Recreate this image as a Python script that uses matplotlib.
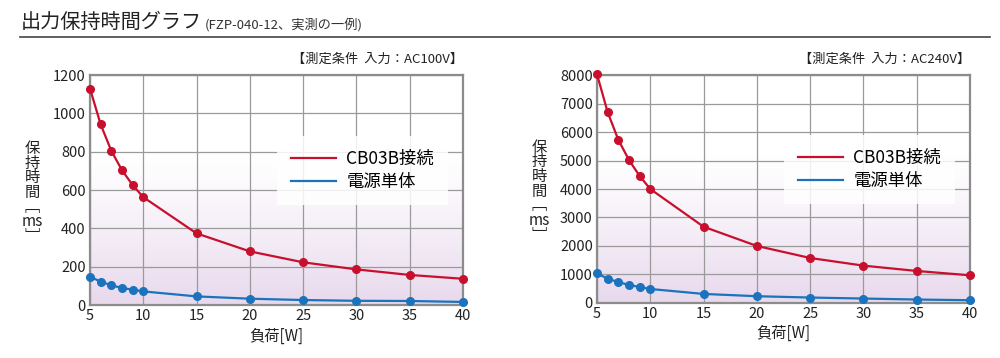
import numpy as np
import matplotlib
matplotlib.use("Agg")
import matplotlib.pyplot as plt
from matplotlib.lines import Line2D

plt.rcParams['font.family'] = ['Noto Sans CJK JP', 'DejaVu Sans']

# ---- data ----
load_w = [5, 6, 7, 8, 9, 10, 15, 20, 25, 30, 35, 40]

ac100_cb03b = [1130, 943, 805, 704, 626, 563, 374, 280, 223, 186, 157, 137]
ac100_single = [148, 122, 103, 89, 80, 71, 45, 33, 26, 22, 21, 16]

ac240_cb03b = [8030, 6700, 5730, 5020, 4460, 4000, 2675, 2000, 1577, 1308, 1121, 969]
ac240_single = [1035, 849, 733, 628, 558, 488, 314, 234, 187, 152, 117, 93]

x_ticks = [5, 10, 15, 20, 25, 30, 35, 40]
legend_labels = ['CB03B接続', '電源単体']
conditions = ['【測定条件  入力：AC100V】', '【測定条件  入力：AC240V】']

RED = '#c8102e'
BLUE = '#1b72bd'
GRID = '#9a9a9a'

fig = plt.figure(figsize=(10, 3.58), dpi=100)

# title + rule
fig.text(0.021, 0.938, '出力保持時間グラフ', fontsize=14.5, color='#222222',
         va='center', ha='left')
fig.text(0.205, 0.930, '(FZP-040-12、実測の一例)', fontsize=9.5, color='#333333',
         va='center', ha='left')
fig.add_artist(Line2D([0.02, 0.99], [0.896, 0.896], color='#444444', lw=1.2,
                      transform=fig.transFigure))


def draw_panel(rect, red, blue, ymax, ystep, cond):
    ax = fig.add_axes(rect)
    # soft purple gradient toward the bottom
    grad = np.linspace(0, 1, 256)
    grad = np.clip((grad - 0.35) / 0.65, 0, 1) ** 1.2
    c0 = np.array([1.0, 1.0, 1.0])
    c1 = np.array([0.91, 0.85, 0.93])
    img = c0[None, :] * (1 - grad[:, None]) + c1[None, :] * grad[:, None]
    img = img[:, None, :]
    ax.imshow(img, extent=[0, 1, 0, 1], transform=ax.transAxes,
              aspect='auto', origin='upper', zorder=0)

    ax.plot(load_w, red, color=RED, lw=1.6, marker='o', ms=5.5, zorder=4,
            label=legend_labels[0], clip_on=False)
    ax.plot(load_w, blue, color=BLUE, lw=1.6, marker='o', ms=5.5, zorder=4,
            label=legend_labels[1], clip_on=False)

    ax.set_xlim(5, 40)
    ax.set_ylim(0, ymax)
    ax.set_xticks(x_ticks)
    ax.set_yticks(np.arange(0, ymax + 1, ystep))
    ax.grid(True, color=GRID, lw=0.9, zorder=1)
    ax.set_axisbelow(False)
    for gl in ax.get_xgridlines() + ax.get_ygridlines():
        gl.set_zorder(1)
    for s in ax.spines.values():
        s.set_color('#8c8c8c')
        s.set_linewidth(1.6)
        s.set_zorder(3)
    ax.tick_params(length=0, labelsize=10.5, colors='#222222', pad=3)

    ax.set_xlabel('負荷[W]', fontsize=11, color='#222222', labelpad=3)
    ax.text(1.0, 1.04, cond, transform=ax.transAxes, ha='right', va='bottom',
            fontsize=9.5, color='#222222')
    ax.text(-0.155, 0.49, '保\n持\n時\n間\n﹇\nms\n﹈', transform=ax.transAxes,
            ha='center', va='center', fontsize=11, color='#222222',
            linespacing=0.82)

    leg = ax.legend(loc='center', bbox_to_anchor=(0.73, 0.585), fontsize=12.5,
                    frameon=True, handlelength=2.6, handletextpad=0.6,
                    labelspacing=0.3, borderpad=0.8, fancybox=False)
    leg.get_frame().set_facecolor('white')
    leg.get_frame().set_alpha(0.85)
    leg.get_frame().set_edgecolor('none')
    leg.set_zorder(5)
    for h in leg.get_lines():
        h.set_marker('')
        h.set_linewidth(1.6)
    return ax


draw_panel([0.090, 0.148, 0.373, 0.642], ac100_cb03b, ac100_single, 1200, 200,
           conditions[0])
draw_panel([0.597, 0.154, 0.373, 0.636], ac240_cb03b, ac240_single, 8000, 1000,
           conditions[1])

fig.savefig('out.png', dpi=100)
